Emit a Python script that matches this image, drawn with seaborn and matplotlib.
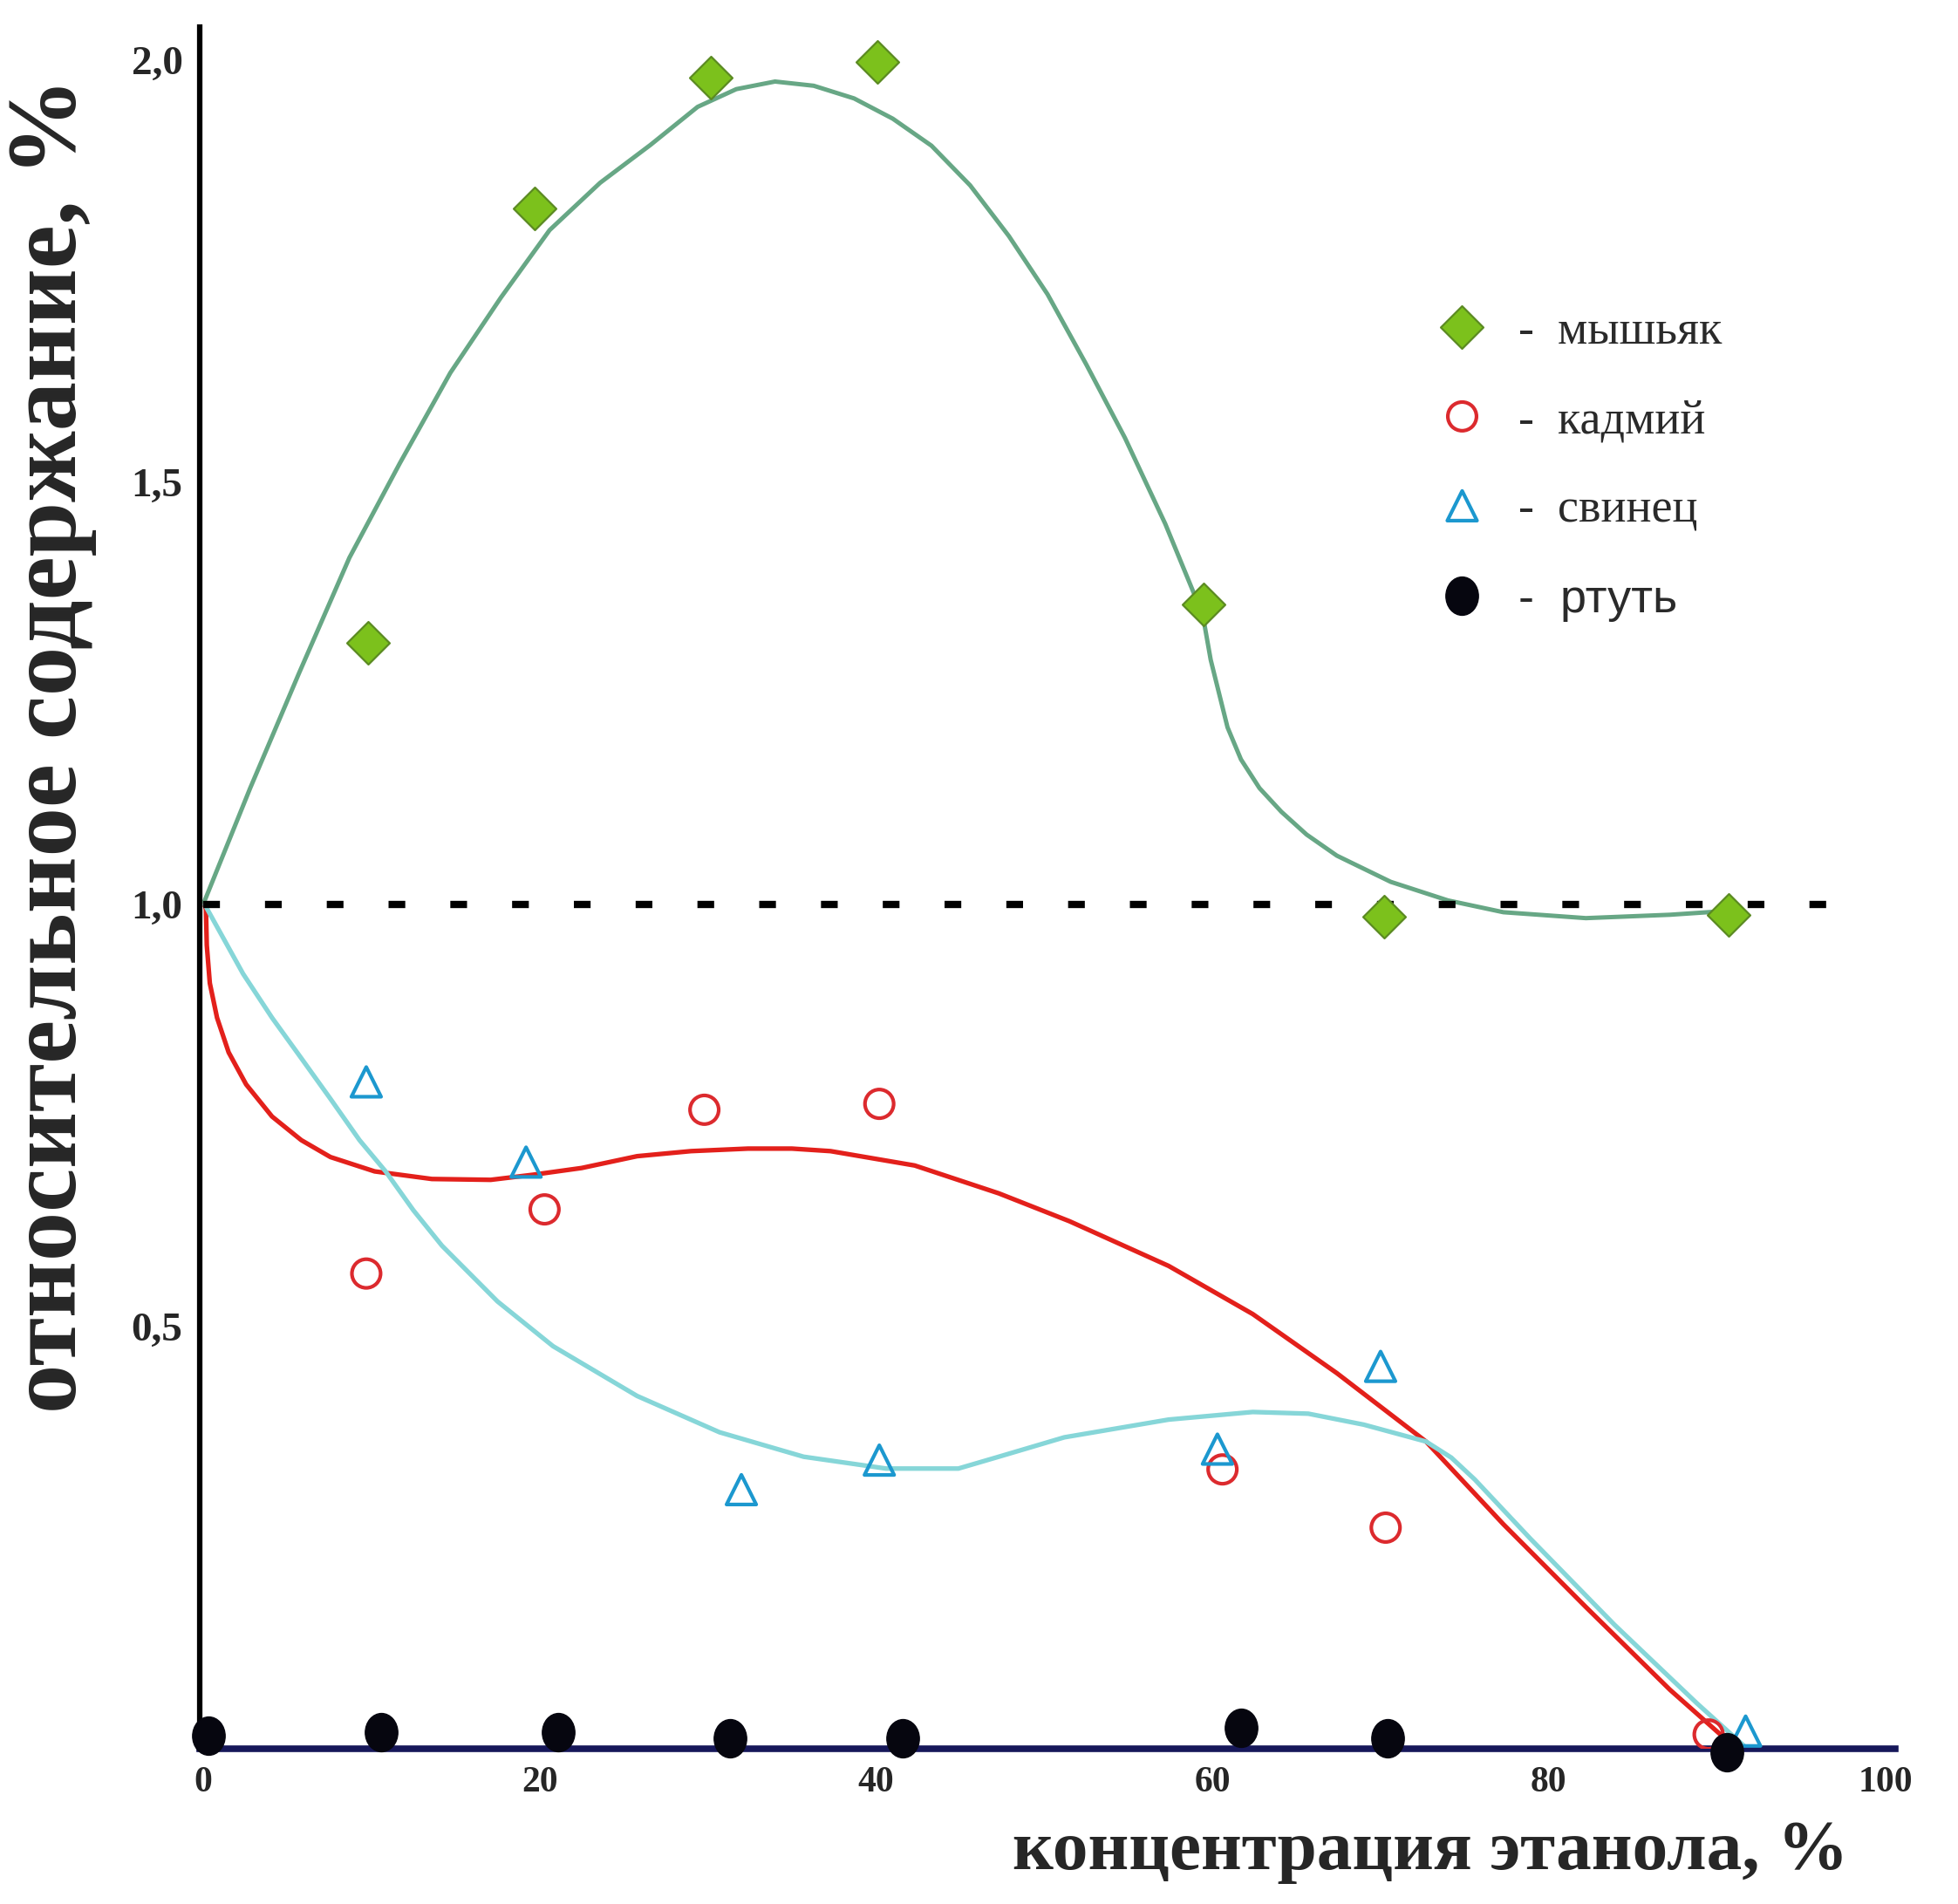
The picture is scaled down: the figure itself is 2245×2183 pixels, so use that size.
"""Relative content of metals vs ethanol concentration"""
import matplotlib
matplotlib.use('Agg')
import matplotlib.pyplot as plt
from matplotlib.path import Path
from matplotlib.transforms import Affine2D
from matplotlib.ticker import FixedLocator
import seaborn as sns

# Measured points: ethanol concentration (%) -> relative content
arsenic_x = [9.8, 19.7, 30.2, 40.1, 59.5, 70.2, 90.7]
arsenic_y = [1.31, 1.825, 1.98, 1.998, 1.356, 0.986, 0.988]
cadmium_x = [9.7, 20.3, 29.8, 40.2, 60.6, 70.3, 89.5]
cadmium_y = [0.563, 0.639, 0.757, 0.764, 0.331, 0.262, 0.017]
lead_x = [9.7, 19.2, 32.0, 40.2, 60.3, 70.0, 91.7]
lead_y = [0.790, 0.695, 0.307, 0.342, 0.355, 0.453, 0.021]
mercury_x = [0.3, 10.6, 21.1, 31.3, 41.6, 61.7, 70.4, 90.6]
mercury_y = [0.016, 0.020, 0.020, 0.013, 0.013, 0.025, 0.012, -0.004]

# Hand-drawn trend curves
arsenic_fit_x = [0, 2.8, 5.7, 8.7, 11.7, 14.7, 17.7, 20.6, 23.6, 26.6, 29.4, 31.7,
                 34.0, 36.3, 38.7, 41.0, 43.3, 45.6, 47.9, 50.2, 52.5, 54.8, 57.2,
                 59.0, 59.5, 59.9, 60.4, 60.9, 61.7, 62.8, 64.1, 65.6, 67.4, 70.6,
                 74.0, 77.3, 82.2, 87.2, 90.2]
arsenic_fit_y = [1.0, 1.138, 1.274, 1.411, 1.523, 1.630, 1.719, 1.799, 1.855, 1.900,
                 1.945, 1.966, 1.975, 1.970, 1.955, 1.931, 1.899, 1.852, 1.792, 1.723,
                 1.640, 1.553, 1.451, 1.364, 1.335, 1.29, 1.25, 1.21, 1.172, 1.138,
                 1.11, 1.083, 1.058, 1.027, 1.005, 0.991, 0.984, 0.988, 0.992]
cadmium_fit_x = [0.1, 0.17, 0.22, 0.4, 0.83, 1.52, 2.56, 4.1, 5.84, 7.57, 10.2, 13.6,
                 17.1, 19.6, 22.5, 25.8, 29.0, 32.4, 35.0, 37.3, 42.3, 47.3, 51.5,
                 57.4, 62.4, 67.4, 72.7, 77.3, 82.2, 87.2, 90.2]
cadmium_fit_y = [1.0, 0.994, 0.952, 0.907, 0.866, 0.825, 0.787, 0.749, 0.721, 0.701,
                 0.684, 0.675, 0.674, 0.680, 0.688, 0.702, 0.708, 0.711, 0.711, 0.708,
                 0.691, 0.658, 0.625, 0.572, 0.515, 0.445, 0.364, 0.266, 0.168, 0.070,
                 0.017]
lead_fit_x = [0.1, 2.38, 4.1, 5.84, 7.57, 9.3, 10.85, 12.5, 14.2, 17.5, 20.8, 25.8,
              30.7, 35.7, 40.6, 44.9, 47.3, 51.2, 57.4, 62.4, 65.7, 69.0, 72.7, 74.2,
              75.6, 78.9, 83.9, 88.8, 91.8]
lead_fit_y = [1.0, 0.918, 0.866, 0.818, 0.770, 0.721, 0.684, 0.638, 0.596, 0.530,
              0.477, 0.418, 0.375, 0.346, 0.332, 0.332, 0.346, 0.369, 0.390, 0.399,
              0.397, 0.384, 0.364, 0.345, 0.319, 0.249, 0.147, 0.054, 0.0]

ref_level = 1.0
ref_span = (0, 96.5)

x_ticks = [0, 20, 40, 60, 80, 100]
x_minor = [20, 40, 60, 80]
y_ticks = [0.5, 1.0, 1.5, 2.0]
y_tick_labels = ['0,5', '1,0', '1,5', '2,0']
y_minor = [0.8]

labels = ['-  мышьяк', '-  кадмий', '-  свинец', '-  ртуть']

sns.set_style('white')
plt.rcParams['font.family'] = ['Liberation Serif', 'DejaVu Serif']

fig = plt.figure(figsize=(22.45, 21.83), dpi=100)
ax = fig.add_axes([0.102, 0.0815, 0.866, 0.9045])

# Trend curves
line_kw = dict(sort=False, ax=ax, solid_joinstyle='round', solid_capstyle='round')
sns.lineplot(x=arsenic_fit_x, y=arsenic_fit_y, color='#67a785', linewidth=3.6,
             **line_kw)
sns.lineplot(x=cadmium_fit_x, y=cadmium_fit_y, color='#e3201b', linewidth=3.8,
             **line_kw)
sns.lineplot(x=lead_fit_x, y=lead_fit_y, color='#86d6d8', linewidth=3.8, **line_kw)

# Reference level (dashed)
ax.hlines(ref_level, *ref_span, colors='black', linestyles=(0, (2.3, 6.2)),
          linewidth=6, zorder=3)

# Measured points
oval = Affine2D().scale(0.85, 1.0).transform_path(Path.unit_circle())
sns.scatterplot(x=arsenic_x, y=arsenic_y, marker='D', s=620, color='#7cc11c',
                edgecolor='#5b8a22', linewidth=1.6, zorder=5, label=labels[0],
                ax=ax)
sns.scatterplot(x=cadmium_x, y=cadmium_y, marker='o', s=560, facecolor='none',
                edgecolor='#dc2a2e', linewidth=3.0, zorder=5, label=labels[1],
                ax=ax)
sns.scatterplot(x=lead_x, y=lead_y, marker='^', s=600, facecolor='none',
                edgecolor='#1c98cf', linewidth=3.0, zorder=5, label=labels[2],
                ax=ax)
sns.scatterplot(x=mercury_x, y=mercury_y, marker=oval, s=1000, color='#06060f',
                edgecolor='#06060f', linewidth=1, zorder=6, label=labels[3],
                clip_on=False, ax=ax)

ax.set_xlim(-0.2, 100.6)
ax.set_ylim(0, 2.04)

# Axes look
for side in ['top', 'right']:
    ax.spines[side].set_visible(False)
ax.spines['left'].set_linewidth(4.5)
ax.spines['left'].set_color('black')
ax.spines['bottom'].set_linewidth(5.5)
ax.spines['bottom'].set_color('#17185a')

ax.set_xticks(x_ticks)
ax.set_xticklabels([str(t) for t in x_ticks])
ax.set_yticks(y_ticks)
ax.set_yticklabels(y_tick_labels)
ax.xaxis.set_minor_locator(FixedLocator(x_minor))
ax.yaxis.set_minor_locator(FixedLocator(y_minor))
ax.tick_params(axis='x', which='major', length=0, pad=14, labelsize=30)
ax.tick_params(axis='y', which='major', length=0, pad=14, labelsize=34)
ax.tick_params(axis='x', which='minor', direction='in', length=17, width=2.5,
               color='black')
ax.tick_params(axis='y', which='minor', direction='in', length=12, width=3,
               color='black')
for lab in ax.get_xticklabels() + ax.get_yticklabels():
    lab.set_fontweight('bold')

ax.set_xlabel('концентрация этанола, %', fontsize=58.5, fontweight='bold')
ax.set_ylabel('относительное содержание, %', fontsize=81, fontweight='bold')
ax.xaxis.set_label_coords(0.726, -0.060)
ax.xaxis.label.set_va('center')
ax.yaxis.set_label_coords(-0.087, 0.583)
ax.yaxis.label.set_va('center')

leg = ax.legend(loc='upper left', bbox_to_anchor=(0.7306, 0.8355), frameon=False,
                fontsize=39, handlelength=1.0, handletextpad=0.7,
                labelspacing=0.96, borderpad=0, borderaxespad=0,
                scatteryoffsets=[0.5])
for t in leg.get_texts():
    t.set_color('#2a2a2a')
leg.get_texts()[3].set_fontfamily(['Liberation Sans', 'DejaVu Sans'])

fig.savefig('out.png', dpi=100)
